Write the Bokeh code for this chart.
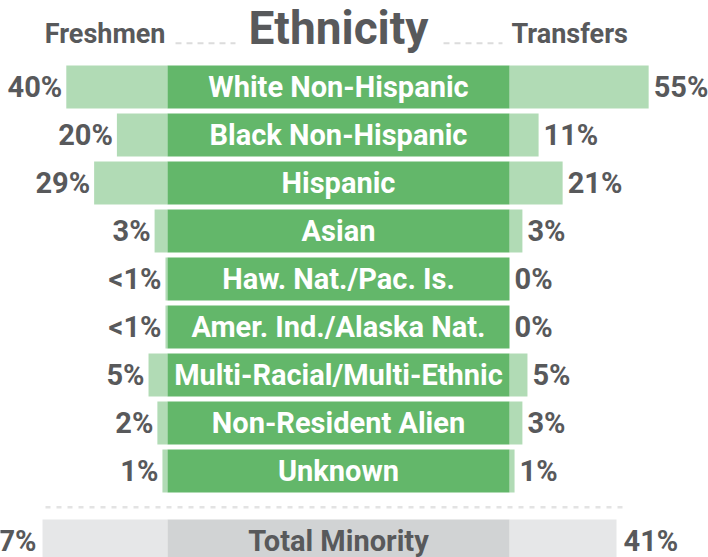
from bokeh.plotting import figure
from bokeh.models import Range1d
from bokeh.embed import file_html
from bokeh.resources import INLINE
from bokeh.core.properties import value

# ---- data ----
categories = ["White Non-Hispanic", "Black Non-Hispanic", "Hispanic", "Asian",
              "Haw. Nat./Pac. Is.", "Amer. Ind./Alaska Nat.",
              "Multi-Racial/Multi-Ethnic", "Non-Resident Alien", "Unknown"]
freshmen_labels = ["40%", "20%", "29%", "3%", "<1%", "<1%", "5%", "2%", "1%"]
transfer_labels = ["55%", "11%", "21%", "3%", "0%", "0%", "5%", "3%", "1%"]
freshmen_bar = [40, 20, 29, 5.1, 0.8, 0.8, 7.5, 4, 2]
transfer_bar = [55, 11.5, 21, 5.1, 0, 0, 7.1, 5.1, 2]
total_category = "Total Minority"
total_freshmen_label = "57%"
total_transfer_label = "41%"
total_freshmen_bar = 49.4
total_transfer_bar = 42.3

# ---- layout helpers (pixel -> data) ----
W, H = 708, 557
K = 2.53          # px per percent
BAND_L = 167      # px where centre band starts
BAND_R = 509
ROW0 = 86.5       # px centre of first row
PITCH = 48.0

def xu(px):
    return (px - BAND_L) / K

def yu(py):
    return (py - ROW0) / PITCH

B = xu(BAND_R)
FONT = "Roboto"
DARK_GREEN = "#63b76a"
LIGHT_GREEN = "#b1dbb5"
TEXT_GRAY = "#58595b"
TY = 0

p = figure(width=W, height=H, output_backend="svg", toolbar_location=None,
           x_range=Range1d(xu(0), xu(W)), y_range=Range1d(yu(H), yu(0)),
           min_border=0, outline_line_color=None)
p.axis.visible = False
p.grid.visible = False
p.background_fill_color = "white"
p.border_fill_color = "white"

rows = list(range(len(categories)))
bh = 43 / PITCH
LBL = "29px"

# light bars
p.hbar(y=rows, left=[-v for v in freshmen_bar], right=0, height=bh,
       fill_color=LIGHT_GREEN, line_color=None)
p.hbar(y=rows, left=B, right=[B + v for v in transfer_bar], height=bh,
       fill_color=LIGHT_GREEN, line_color=None)
# centre band
p.hbar(y=rows, left=0, right=B, height=bh, fill_color=DARK_GREEN, line_color=None)

p.text(x=[B / 2] * len(rows), y=rows, text=categories, text_align="center",
       text_baseline="alphabetic", y_offset=TY, text_color="white",
       text_font=value(FONT), text_font_style="bold", text_font_size=LBL)
p.text(x=[-v for v in freshmen_bar], y=rows, text=freshmen_labels, text_align="right",
       text_baseline="alphabetic", x_offset=-4, y_offset=TY, text_color=TEXT_GRAY,
       text_font=value(FONT), text_font_style="bold", text_font_size=LBL)
p.text(x=[B + v for v in transfer_bar], y=rows, text=transfer_labels, text_align="left",
       text_baseline="alphabetic", x_offset=5, y_offset=TY, text_color=TEXT_GRAY,
       text_font=value(FONT), text_font_style="bold", text_font_size=LBL)

# separator
p.line(x=[xu(45), xu(626)], y=[yu(506.7), yu(506.7)], line_color="#e3e3e3",
       line_width=2.5, line_dash="5 6")

# total row
ty = yu(540.5)
p.hbar(y=[ty], left=[-total_freshmen_bar], right=0, height=bh,
       fill_color="#e6e7e8", line_color=None)
p.hbar(y=[ty], left=B, right=[B + total_transfer_bar], height=bh,
       fill_color="#e6e7e8", line_color=None)
p.hbar(y=[ty], left=0, right=B, height=bh, fill_color="#d1d3d4", line_color=None)
p.text(x=[B / 2], y=[ty], text=[total_category], text_align="center",
       text_baseline="alphabetic", y_offset=TY, text_color=TEXT_GRAY,
       text_font=value(FONT), text_font_style="bold", text_font_size=LBL)
p.text(x=[-total_freshmen_bar], y=[ty], text=[total_freshmen_label], text_align="right",
       text_baseline="alphabetic", x_offset=-6, y_offset=TY, text_color=TEXT_GRAY,
       text_font=value(FONT), text_font_style="bold", text_font_size=LBL)
p.text(x=[B + total_transfer_bar], y=[ty], text=[total_transfer_label], text_align="left",
       text_baseline="alphabetic", x_offset=7, y_offset=TY, text_color=TEXT_GRAY,
       text_font=value(FONT), text_font_style="bold", text_font_size=LBL)

# header
p.text(x=[B / 2], y=[yu(27)], text=["Ethnicity"], text_align="center",
       text_baseline="alphabetic", text_color=TEXT_GRAY,
       text_font=value(FONT), text_font_style="bold", text_font_size="46px")
p.text(x=[xu(165)], y=[yu(33)], text=["Freshmen"], text_align="right",
       text_baseline="alphabetic", text_color=TEXT_GRAY,
       text_font=value(FONT), text_font_style="bold", text_font_size="27px")
p.text(x=[xu(511)], y=[yu(33)], text=["Transfers"], text_align="left",
       text_baseline="alphabetic", text_color=TEXT_GRAY,
       text_font=value(FONT), text_font_style="bold", text_font_size="27px")
hy = yu(42.7)
p.line(x=[xu(175), xu(235)], y=[hy, hy], line_color="#dcdcdc", line_width=2, line_dash="6 5")
p.line(x=[xu(443), xu(502)], y=[hy, hy], line_color="#dcdcdc", line_width=2, line_dash="6 5")

open("out.html", "w").write(file_html(p, INLINE))
